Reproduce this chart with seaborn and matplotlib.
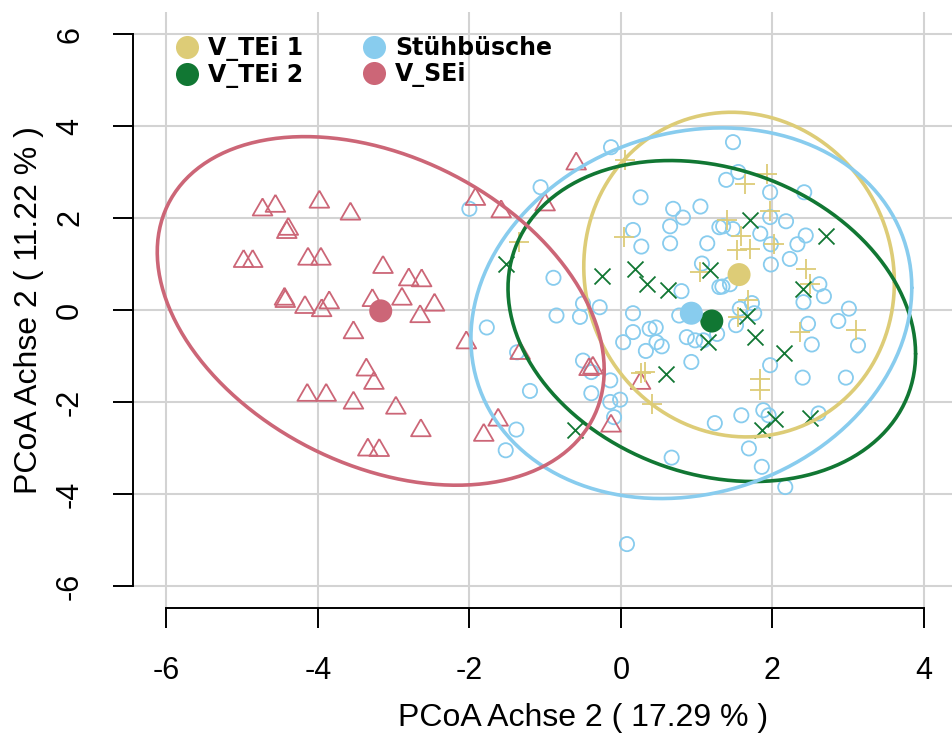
import numpy as np
import pandas as pd
import seaborn as sns
import matplotlib.pyplot as plt
from matplotlib.lines import Line2D

# PCoA scores
tei1_x = [0.05, -1.35, 0.04, 1.04, 0.27, 0.32, 0.41, 1.64, 1.93, 1.97, 1.40, 1.59,
          1.53, 1.71, 2.02, 2.45, 2.50, 1.68, 1.55, 2.36, 3.11, 1.84, 1.83]
tei1_y = [3.27, 1.48, 1.58, 0.82, -1.37, -1.35, -2.04, 2.74, 2.96, 2.16, 1.96, 1.62,
          1.30, 1.33, 1.43, 0.90, 0.56, 0.21, -0.15, -0.48, -0.44, -1.49, -1.73]

tei2_x = [-1.51, -0.25, 0.19, 0.34, 0.62, 1.18, 1.15, 0.60, -0.61, 1.71, 2.71, 2.41,
          1.67, 1.77, 2.15, 2.03, 1.86, 2.49]
tei2_y = [1.01, 0.73, 0.90, 0.56, 0.43, 0.87, -0.70, -1.40, -2.62, 1.96, 1.62, 0.46,
          -0.12, -0.59, -0.94, -2.38, -2.62, -2.34]

stuh_x = [-0.13, -1.06, -2.00, 0.26, 0.69, 0.82, 0.65, 0.16, 0.27, 0.65, -0.89, 0.80,
          -0.50, -0.28, -0.85, 0.16, 1.05, 1.14, 1.30, 1.07, 1.30, -0.54, 0.77, 0.16,
          0.38, 0.46, 0.03, 0.47, 0.54, 0.33, 0.87, 0.98, 1.09, 0.93, -0.50, -1.77,
          -1.37, -0.39, -0.14, -0.39, -0.14, -0.01, -0.09, -1.20, -1.38, -1.52, 0.67,
          0.08, 1.48, 1.39, 1.55, 1.97, 2.42, 1.35, 1.48, 1.84, 1.97, 2.18, 2.44, 2.33,
          1.98, 2.23, 1.98, 1.34, 1.44, 2.62, 2.68, 2.41, 3.01, 1.57, 1.73, 2.87, 2.47,
          3.13, 2.52, 1.52, 1.76, 1.27, 1.97, 2.40, 2.97, 1.88, 1.95, 1.59, 1.24, 2.61,
          1.69, 1.86, 2.17]
stuh_y = [3.54, 2.67, 2.20, 2.45, 2.20, 2.01, 1.82, 1.74, 1.38, 1.45, 0.70, 0.41,
          0.14, 0.06, -0.12, -0.07, 2.25, 1.45, 1.80, 1.01, 0.50, -0.15, -0.12, -0.48,
          -0.41, -0.38, -0.70, -0.70, -0.79, -0.89, -0.59, -0.66, -0.66, -1.13, -1.10, -0.38,
          -0.92, -1.35, -1.53, -1.81, -2.00, -1.95, -2.33, -1.76, -2.60, -3.05, -3.21,
          -5.09, 3.65, 2.83, 3.00, 2.56, 2.56, 1.82, 1.76, 1.66, 2.02, 1.93, 1.62, 1.43,
          1.43, 1.11, 0.99, 0.51, 0.56, 0.56, 0.30, 0.17, 0.03, 0.03, 0.15, -0.24, -0.30,
          -0.77, -0.75, -0.33, -0.07, -0.52, -1.20, -1.47, -1.47, -2.18, -2.29, -2.29, -2.46, -2.25,
          -3.01, -3.41, -3.85]

sei_x = [-4.73, -4.56, -3.98, -3.57, -4.39, -4.41, -4.98, -4.86, -4.13, -3.96, -3.14,
         -2.80, -2.63, -4.44, -4.43, -4.17, -3.95, -3.85, -3.28, -2.89, -2.65, -2.46,
         -3.53, -3.36, -3.26, -4.14, -3.89, -3.53, -2.97, -2.64, -3.34, -3.19, -2.04,
         -1.92, -1.58, -1.00, -0.59, -1.33, -0.42, -0.37, 0.26, -0.13, -1.62, -1.81]
sei_y = [2.24, 2.32, 2.41, 2.15, 1.82, 1.75, 1.12, 1.12, 1.17, 1.17, 0.99, 0.72, 0.70,
         0.30, 0.25, 0.12, 0.05, 0.22, 0.27, 0.30, -0.08, 0.17, -0.43, -1.24, -1.53,
         -1.79, -1.79, -1.96, -2.07, -2.56, -2.98, -2.99, -0.65, 2.47, 2.20, 2.35, 3.24,
         -0.88, -1.23, -1.20, -1.53, -2.46, -2.33, -2.66]

groups = ["V_TEi 1", "V_TEi 2", "Stühbüsche", "V_SEi"]
colors = ["#DDCC77", "#117733", "#88CCEE", "#CC6677"]

# group centroids
cent_x = [1.56, 1.20, 0.93, -3.17]
cent_y = [0.77, -0.24, -0.07, -0.02]

# ellipses: half width, half height, x offset of the top point
ell_hx = [2.05, 2.69, 2.91, 2.95]
ell_hy = [3.53, 3.49, 4.03, 3.79]
ell_dx = [-0.10, -0.55, 0.40, -1.00]

sns.set_theme(style="white")
plt.rcParams["font.family"] = ["Liberation Sans", "DejaVu Sans"]
plt.rcParams["axes.unicode_minus"] = False
plt.rcParams["text.color"] = "black"
plt.rcParams["axes.labelcolor"] = "black"
plt.rcParams["xtick.color"] = "black"
plt.rcParams["ytick.color"] = "black"

fig = plt.figure(figsize=(9.52, 7.33), dpi=100)
ax = fig.add_axes([133 / 952, 125 / 733, 900 / 952, 596 / 733])

# open triangle (R pch 2), closed outline
tri = [(0, 0.75), (0.866, -0.75), (-0.866, -0.75), (0, 0.75)]

sns.scatterplot(x=stuh_x, y=stuh_y, marker="o", s=105, facecolor="none",
                edgecolor=colors[2], linewidth=1.3, ax=ax, zorder=3)
sns.scatterplot(x=sei_x, y=sei_y, marker=tri, s=200, facecolor="none",
                edgecolor=colors[3], linewidth=1.3, ax=ax, zorder=3)
sns.scatterplot(x=tei1_x, y=tei1_y, marker="+", s=222, color=colors[0],
                linewidth=1.3, ax=ax, zorder=3)
sns.scatterplot(x=tei2_x, y=tei2_y, marker="x", s=132, color=colors[1],
                linewidth=1.3, ax=ax, zorder=3)

t = np.linspace(0, 2 * np.pi, 300)
for i in range(4):
    S = np.array([[ell_hx[i] ** 2, ell_dx[i] * ell_hy[i]],
                  [ell_dx[i] * ell_hy[i], ell_hy[i] ** 2]])
    L = np.linalg.cholesky(S)
    pts = L @ np.vstack([np.cos(t), np.sin(t)])
    df_ell = pd.DataFrame({"x": cent_x[i] + pts[0], "y": cent_y[i] + pts[1]})
    sns.lineplot(data=df_ell, x="x", y="y", sort=False, estimator=None,
                 color=colors[i], lw=2.6, ax=ax, zorder=4)

for i in range(4):
    sns.scatterplot(x=[cent_x[i]], y=[cent_y[i]], s=275, color=colors[i],
                    edgecolor="none", ax=ax, zorder=5)

ax.set_xlim(-6.44, 5.44)
ax.set_ylim(-6.48, 6.48)
ax.set_xticks(range(-6, 5, 2))
ax.set_yticks(range(-6, 7, 2))
ax.grid(True, color="#D3D3D3", lw=1.5)
ax.set_axisbelow(True)

for side in ["top", "right"]:
    ax.spines[side].set_visible(False)
ax.spines["left"].set_bounds(-6, 6)
ax.spines["bottom"].set_bounds(-6, 4)
for side in ["left", "bottom"]:
    ax.spines[side].set_linewidth(1.4)
    ax.spines[side].set_color("black")

ax.tick_params(direction="out", length=14.5, width=1.4, color="black",
               labelcolor="black", labelsize=22, pad=20, left=True, bottom=True)
ax.tick_params(axis="y", labelrotation=90)
for lbl in ax.get_yticklabels():
    lbl.set_va("center")

ax.set_xlabel("PCoA Achse 2 ( 17.29 % )", fontsize=23, labelpad=12)
ax.set_ylabel("PCoA Achse 2 ( 11.22 % )", fontsize=23, labelpad=8)

handles = [Line2D([], [], marker="o", ls="", color=c, markersize=16.6,
                  markeredgewidth=0) for c in colors]
ax.legend(handles, groups, ncol=2, loc="upper left",
          bbox_to_anchor=(175 / 952, 1 - 36 / 733), bbox_transform=fig.transFigure,
          frameon=False, prop={"family": "DejaVu Sans", "weight": "bold", "size": 17},
          handlelength=1.0, handletextpad=0.4, columnspacing=2.5, labelspacing=0.08,
          borderpad=0, borderaxespad=0)

fig.savefig("out.png", dpi=100)
